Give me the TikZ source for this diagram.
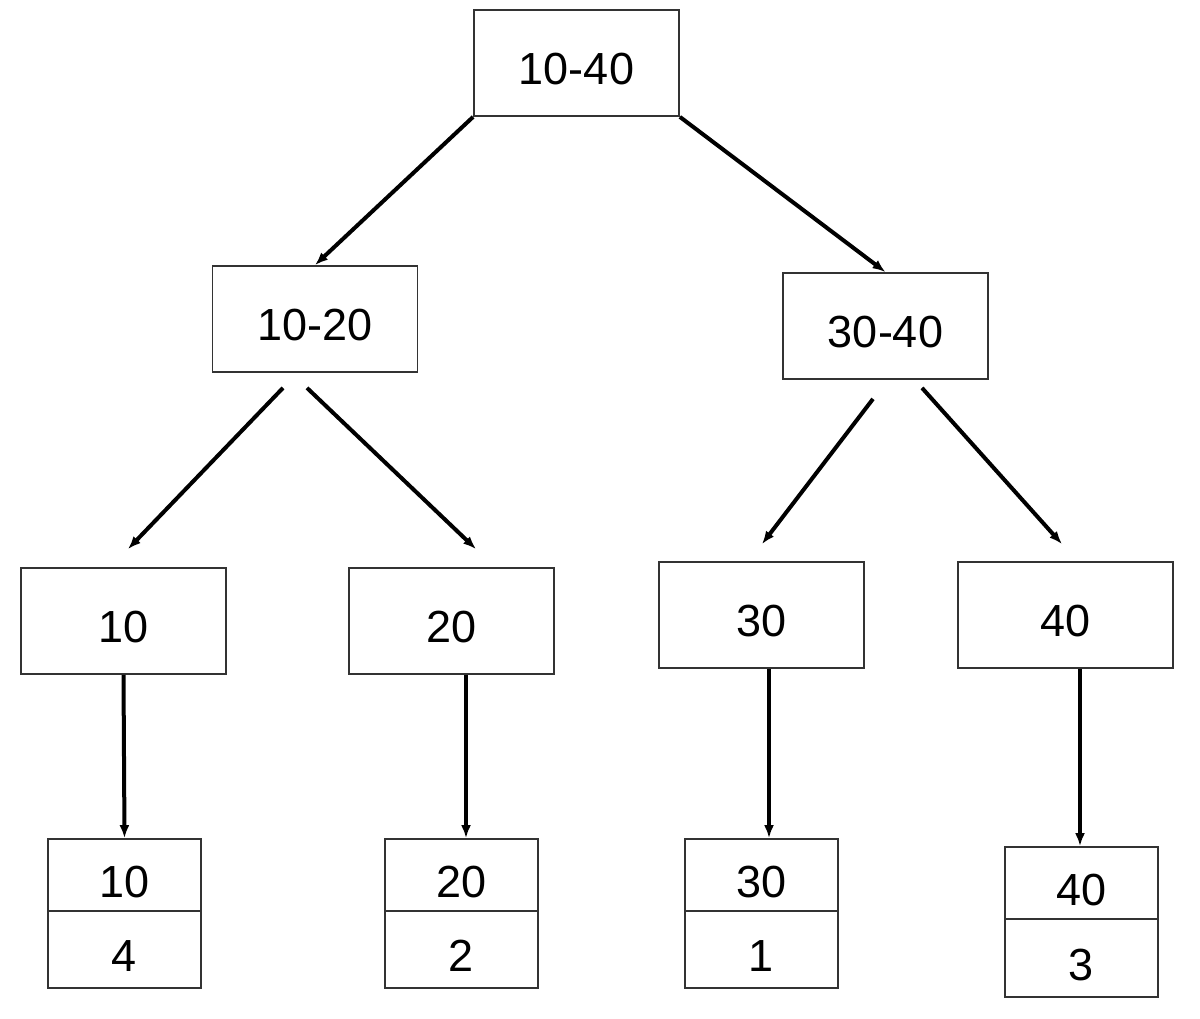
\documentclass[tikz,border=0pt]{standalone}
\usepackage{fontspec}
\setmainfont{Liberation Sans}
\usetikzlibrary{calc,arrows.meta}
\begin{document}
\begin{tikzpicture}[x=1pt,y=-1pt,
  box/.style={draw=black!80,line width=1.8pt,rectangle,inner sep=0pt,
    minimum width=205pt,minimum height=106pt,font=\fontsize{45}{50}\selectfont,
    text height=43pt,text depth=0pt},
  leaf/.style={draw=black!80,line width=1.8pt,rectangle,inner sep=0pt,
    minimum width=153pt,font=\fontsize{45}{50}\selectfont,
    text height=44pt,text depth=0pt},
  arr/.style={line width=4pt,-{Latex[length=13pt,width=10pt]}}]
\useasboundingbox[fill=white] (0,0) rectangle (1200,1018);
% internal nodes
\node[box] (r) at (576.5,63) {10-40};
\node[box] (a) at (315,319) {10-20};
\node[box] (b) at (885.5,326) {30-40};
\node[box] (c10) at (123.5,621) {10};
\node[box] (c20) at (451.5,621) {20};
\node[box] (c30) at (761.5,615) {30};
\node[box,minimum width=215pt] (c40) at (1065.5,615) {40};
% leaves
\node[leaf,minimum height=72pt] (l10) at (124.5,875) {10};
\node[leaf,minimum height=77pt] (l10b) at (124.5,949.5) {4};
\node[leaf,minimum height=72pt] (l20) at (461.5,875) {20};
\node[leaf,minimum height=77pt] (l20b) at (461.5,949.5) {2};
\node[leaf,minimum height=72pt] (l30) at (761.5,875) {30};
\node[leaf,minimum height=77pt] (l30b) at (761.5,949.5) {1};
\node[leaf,minimum height=72pt] (l40) at (1081.5,883) {40};
\node[leaf,minimum height=78pt] (l40b) at (1081.5,958) {3};
% arrows
\draw[arr] (r.south west) -- (a.north);
\draw[arr] (r.south east) -- (b.north);
\draw[arr] ($(a.south)+(-32,15)$) -- ($(c10.north)+(4.5,-18)$);
\draw[arr] ($(a.south)+(-8,15)$) -- ($(c20.north)+(24.5,-18)$);
\draw[arr] ($(b.south)+(-12.5,19)$) -- ($(c30.north)+(0.5,-17)$);
\draw[arr] ($(b.south)+(36.5,8)$) -- ($(c40.north)+(-3.5,-17)$);
\draw[arr] (c10.south) -- (l10.north);
\draw[arr] ($(c20.south)+(14.5,0)$) -- ($(l20.north)+(4.5,0)$);
\draw[arr] ($(c30.south)+(7.5,0)$) -- ($(l30.north)+(7.5,0)$);
\draw[arr] ($(c40.south)+(14.5,0)$) -- ($(l40.north)+(-1.5,0)$);
\end{tikzpicture}
\end{document}
